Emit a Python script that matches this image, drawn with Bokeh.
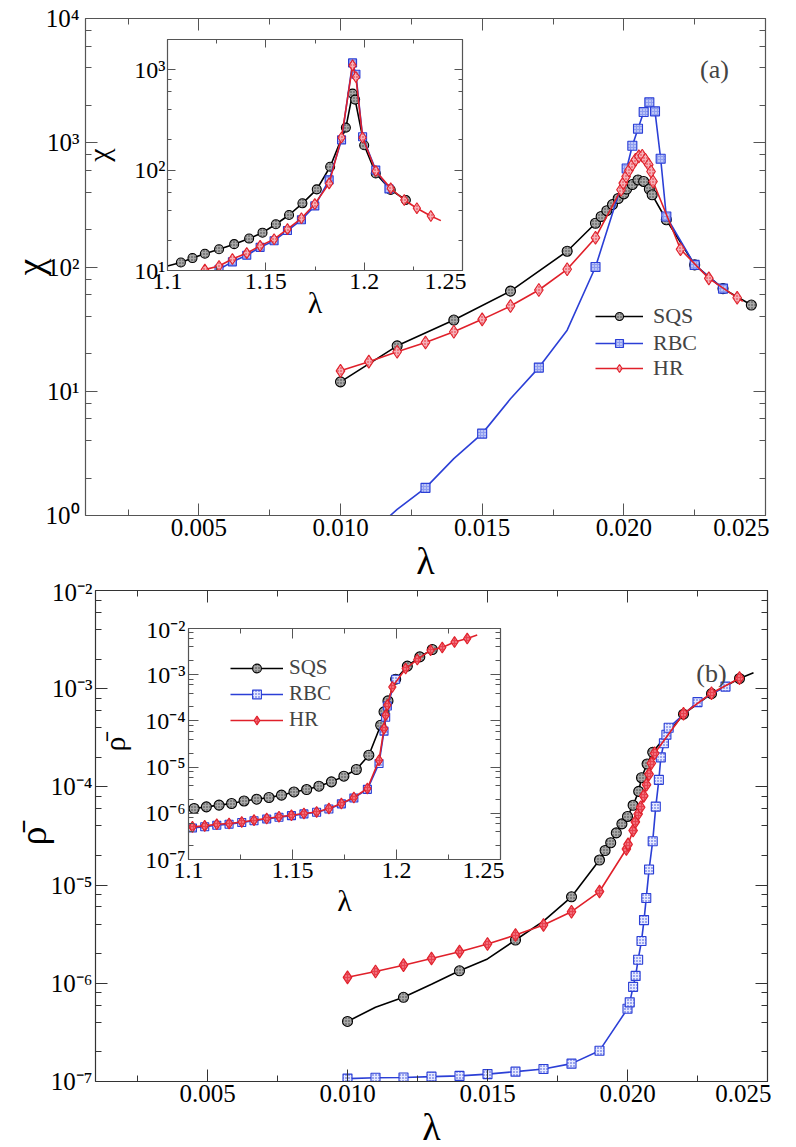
from bokeh.plotting import figure
from bokeh.models import (GridBox, LogAxis, LinearAxis, SingleIntervalTicker, LogTicker,
                          CustomJSTickFormatter, PrintfTickFormatter, Legend, LegendItem,
                          Label, Range1d)
from bokeh.embed import file_html
from bokeh.resources import INLINE

FONT = "Liberation Serif"

# ---------------- data: panel (a), main ----------------
sqs_a_x = [0.0100, 0.0120, 0.0140, 0.0160, 0.0180, 0.0190, 0.0192, 0.0194, 0.0196, 0.0198,
           0.0200, 0.0201, 0.0203, 0.0205, 0.0207, 0.0209, 0.0210, 0.0215, 0.0225, 0.0235, 0.0245]
sqs_a_y = [11.9, 23.2, 37.4, 64.0, 134, 225, 255, 284, 318, 356,
           388, 424, 461, 502, 488, 424, 381, 240, 104, 67, 49.4]
sqs_a_nomark = []

rbc_a_x = [0.0110, 0.0120, 0.0130, 0.0140, 0.0150, 0.0160, 0.0170, 0.0180, 0.0190, 0.0201,
           0.0203, 0.0205, 0.0207, 0.0209, 0.0211, 0.0213, 0.0215, 0.0225, 0.0235]
rbc_a_y = [0.70, 1.12, 1.67, 2.87, 4.56, 8.7, 15.5, 31.0, 100, 620,
           946, 1297, 1766, 2114, 1790, 743, 255, 104, 67]
rbc_a_nomark = [0, 1, 3, 5, 7]

hr_a_x = [0.0100, 0.0110, 0.0120, 0.0130, 0.0140, 0.0150, 0.0160, 0.0170, 0.0180, 0.0190,
          0.01990, 0.01998, 0.02008, 0.02018, 0.02030, 0.02041, 0.02053, 0.02065, 0.02076,
          0.02088, 0.02096, 0.02103, 0.0220, 0.0230, 0.0240, 0.0242]
hr_a_y = [14.6, 17.3, 20.8, 24.7, 30.1, 37.9, 48.5, 65.3, 95.8, 172,
          419, 473, 535, 598, 665, 729, 777, 785, 729,
          665, 587, 488, 139, 81, 56.6, 53]
hr_a_nomark = [25]

# ---------------- data: panel (a), inset ----------------
sqs_ai_x = [1.1000, 1.1068, 1.1127, 1.1190, 1.1262, 1.1339, 1.1415, 1.1483, 1.1551, 1.1618,
            1.1686, 1.1759, 1.1827, 1.1907, 1.1941, 1.1954, 1.2000, 1.2059, 1.2135, 1.2212]
sqs_ai_y = [11.1, 12.0, 13.3, 14.7, 16.3, 18.3, 20.8, 23.8, 28.9, 35.7,
            46.7, 64.3, 108, 265, 578, 504, 177, 92.7, 63.5, 50.4]
sqs_ai_nomark = [0]

rbc_ai_x = [1.1262, 1.1330, 1.1403, 1.1471, 1.1542, 1.1610, 1.1681, 1.1749, 1.1822, 1.1885,
            1.1941, 1.1958, 1.1992, 1.2059, 1.2126]
rbc_ai_y = [10.3, 12.2, 14.2, 17.0, 19.8, 25.0, 32.0, 44.0, 80.0, 200,
            1170, 900, 215, 100, 65]
rbc_ai_nomark = []

hr_ai_x = [1.1162, 1.1190, 1.1262, 1.1330, 1.1403, 1.1471, 1.1542, 1.1610, 1.1681, 1.1749,
           1.1822, 1.1885, 1.1941, 1.1958, 1.1992, 1.2059, 1.2135, 1.2204, 1.2268, 1.2339, 1.2390]
hr_ai_y = [9.9, 10.2, 11.1, 13.0, 14.9, 17.6, 20.5, 25.8, 33.1, 45.9,
           73.8, 211, 1104, 845, 211, 98, 65.8, 50.4, 41.7, 34.9, 31.4]
hr_ai_nomark = [0, 20]

# ---------------- data: panel (b), main ----------------
sqs_b_x = [0.0100, 0.0110, 0.0120, 0.0130, 0.0140, 0.0150, 0.0160, 0.0170, 0.0180, 0.0190,
           0.0192, 0.0194, 0.0196, 0.0198, 0.0200, 0.0202, 0.0204, 0.0205, 0.0207, 0.0209,
           0.0220, 0.0230, 0.0240, 0.0245]
sqs_b_y = [4.09e-7, 5.7e-7, 7.2e-7, 9.8e-7, 1.34e-6, 1.77e-6, 2.76e-6, 4.3e-6, 7.6e-6, 1.8e-5,
           2.25e-5, 2.7e-5, 3.4e-5, 4.2e-5, 5.0e-5, 6.5e-5, 9.0e-5, 1.24e-4, 1.71e-4, 2.25e-4,
           5.5e-4, 8.9e-4, 1.27e-3, 1.45e-3]
sqs_b_nomark = [1, 3, 5, 7, 23]

rbc_b_x = [0.0100, 0.0110, 0.0120, 0.0130, 0.0140, 0.0150, 0.0160, 0.0170, 0.0180, 0.0190,
           0.02000, 0.02008, 0.02020, 0.02029, 0.02038, 0.02050, 0.02059, 0.02067, 0.02077,
           0.02090, 0.02101, 0.02112, 0.02119, 0.02130, 0.02139, 0.02147, 0.0225, 0.0235]
rbc_b_y = [1.07e-7, 1.09e-7, 1.10e-7, 1.12e-7, 1.14e-7, 1.19e-7, 1.26e-7, 1.34e-7, 1.52e-7, 2.06e-7,
           5.5e-7, 6.4e-7, 9.2e-7, 1.19e-6, 1.74e-6, 2.7e-6, 4.4e-6, 7.4e-6, 1.44e-5,
           2.8e-5, 6.3e-5, 1.18e-4, 2.0e-4, 2.78e-4, 3.4e-4, 4.0e-4, 7.3e-4, 1.05e-3]
rbc_b_nomark = []

hr_b_x = [0.0100, 0.0110, 0.0120, 0.0130, 0.0140, 0.0150, 0.0160, 0.0170, 0.0180, 0.0190,
          0.01996, 0.02002, 0.02020, 0.02028, 0.02038, 0.02047, 0.02058, 0.02068, 0.02077,
          0.02085, 0.02097, 0.0220, 0.0230, 0.0240]
hr_b_y = [1.15e-6, 1.32e-6, 1.53e-6, 1.79e-6, 2.1e-6, 2.51e-6, 3.1e-6, 3.93e-6, 5.36e-6, 8.6e-6,
          2.33e-5, 2.6e-5, 3.6e-5, 4.4e-5, 5.3e-5, 6.2e-5, 8.1e-5, 1.05e-4, 1.35e-4,
          1.74e-4, 2.2e-4, 5.56e-4, 9.0e-4, 1.28e-3]
hr_b_nomark = []

# ---------------- data: panel (b), inset ----------------
sqs_bi_x = [1.1027, 1.1086, 1.1147, 1.1207, 1.1267, 1.1328, 1.1387, 1.1447, 1.1507, 1.1568,
            1.1627, 1.1687, 1.1747, 1.1807, 1.1867, 1.1924, 1.1940, 1.1959, 1.1996, 1.2052,
            1.2112, 1.2172]
sqs_bi_y = [1.27e-6, 1.38e-6, 1.5e-6, 1.63e-6, 1.85e-6, 2.02e-6, 2.2e-6, 2.47e-6, 2.9e-6, 3.27e-6,
            3.86e-6, 4.79e-6, 6.36e-6, 8.87e-6, 1.81e-5, 8.07e-5, 1.57e-4, 2.71e-4, 8.0e-4, 1.53e-3,
            2.43e-3, 3.51e-3]
sqs_bi_nomark = []

rbc_bi_x = [1.1019, 1.1078, 1.1136, 1.1195, 1.1256, 1.1315, 1.1376, 1.1435, 1.1495, 1.1555,
            1.1616, 1.1675, 1.1735, 1.1795, 1.1860, 1.1916, 1.1940, 1.1948, 1.1956, 1.1996]
rbc_bi_y = [4.8e-7, 5.1e-7, 5.5e-7, 5.8e-7, 6.3e-7, 6.9e-7, 7.5e-7, 8.2e-7, 8.9e-7, 9.7e-7,
            1.05e-6, 1.24e-6, 1.6e-6, 2.15e-6, 3.3e-6, 1.2e-5, 6.0e-5, 1.2e-4, 2.1e-4, 8.0e-4]
rbc_bi_nomark = []

hr_bi_x = [1.1019, 1.1078, 1.1136, 1.1195, 1.1256, 1.1315, 1.1376, 1.1435, 1.1495, 1.1555,
           1.1616, 1.1675, 1.1735, 1.1795, 1.1860, 1.1916, 1.1940, 1.1948, 1.1956, 1.1980,
           1.2044, 1.2100, 1.2164, 1.2220, 1.2279, 1.2340, 1.2388]
hr_bi_y = [5.08e-7, 5.34e-7, 5.8e-7, 6.0e-7, 6.5e-7, 7.1e-7, 7.7e-7, 8.4e-7, 9.1e-7, 9.9e-7,
           1.07e-6, 1.27e-6, 1.63e-6, 2.2e-6, 3.44e-6, 1.41e-5, 6.8e-5, 1.33e-4, 2.19e-4, 5.4e-4,
           1.36e-3, 2.13e-3, 3.39e-3, 3.88e-3, 5.1e-3, 6.08e-3, 7.2e-3]
hr_bi_nomark = [26]

labels = ["SQS", "RBC", "HR"]

BLACK = "#000000"
BLUE = "#2b3fd6"
RED = "#e0202a"

STY_A = {
    "SQS": dict(color=BLACK, marker="circle", size=10, fill="#a8a8a8", hatch="#3a3a3a"),
    "RBC": dict(color=BLUE, marker="square", size=9, fill="#8e9df0", hatch="#ffffff"),
    "HR": dict(color=RED, marker="diamond", size=13, fill="#f6b0b8", hatch="#e0202a"),
}
STY_B = {
    "SQS": dict(color=BLACK, marker="circle", size=10, fill="#a8a8a8", hatch="#3a3a3a"),
    "RBC": dict(color=BLUE, marker="square", size=9, fill="#e6eaff", hatch="#2b3fd6"),
    "HR": dict(color=RED, marker="diamond", size=13, fill="#e8404e", hatch="#ffb0b8"),
}

LOG_FMT = CustomJSTickFormatter(code="""
const m = {"0":"\u2070","1":"\u00b9","2":"\u00b2","3":"\u00b3","4":"\u2074","5":"\u2075",
           "6":"\u2076","7":"\u2077","8":"\u2078","9":"\u2079","-":"\u207b"};
const e = Math.round(Math.log10(tick));
let s = "";
for (const c of String(e)) { s += m[c]; }
return "10" + s;
""")
BLANK_FMT = CustomJSTickFormatter(code="return '';")
INSET_X_FMT = CustomJSTickFormatter(code="return String(Math.round(tick*100)/100);")


def style_axis(ax, tin, minor_in, color, fsize):
    ax.major_tick_in = tin
    ax.major_tick_out = 0
    ax.minor_tick_in = minor_in
    ax.minor_tick_out = 0
    ax.axis_line_color = color
    ax.major_tick_line_color = color
    ax.minor_tick_line_color = color
    ax.axis_line_width = 1.2
    ax.major_label_text_font = FONT
    ax.major_label_text_font_size = fsize
    ax.major_label_text_color = "black"
    ax.axis_label_text_font = FONT
    ax.axis_label_text_font_style = "normal"
    ax.axis_label_text_color = "black"


def make_panel(fw, fh, xr, yr, border_l, border_t, xint, tin, minor_in, color, fsize,
               xfmt, xlabel, ylabel, lab_size, xstand, ystand, ylab_stand, xlab_stand):
    p = figure(frame_width=fw, frame_height=fh, x_range=Range1d(*xr), y_range=Range1d(*yr),
               y_axis_type="log", output_backend="svg", toolbar_location=None,
               min_border_left=border_l, min_border_right=4,
               min_border_top=border_t, min_border_bottom=4)
    p.xgrid.visible = False
    p.ygrid.visible = False
    p.outline_line_color = None
    p.border_fill_alpha = 0
    p.background_fill_color = "white"
    xa = p.xaxis[0]
    ya = p.yaxis[0]
    xa.ticker = SingleIntervalTicker(interval=xint, num_minor_ticks=2)
    xa.formatter = xfmt
    ya.ticker = LogTicker(desired_num_ticks=6)
    ya.formatter = LOG_FMT
    for ax in (xa, ya):
        style_axis(ax, tin, minor_in, color, fsize)
        ax.axis_label_text_font_size = lab_size
    xa.axis_label = xlabel
    ya.axis_label = ylabel
    xa.major_label_standoff = xstand
    ya.major_label_standoff = ystand
    ya.axis_label_standoff = ylab_stand
    xa.axis_label_standoff = xlab_stand
    top = LinearAxis(ticker=SingleIntervalTicker(interval=xint, num_minor_ticks=2),
                     formatter=BLANK_FMT)
    right = LogAxis(ticker=LogTicker(desired_num_ticks=6), formatter=BLANK_FMT)
    for ax in (top, right):
        style_axis(ax, tin, minor_in, color, "0px")
        ax.major_label_standoff = 0
    p.add_layout(top, "above")
    p.add_layout(right, "right")
    return p


def series(p, xs, ys, nomark, st, lw=1.6):
    lr = p.line(xs, ys, line_color=st["color"], line_width=lw)
    mx = [x for i, x in enumerate(xs) if i not in nomark]
    my = [y for i, y in enumerate(ys) if i not in nomark]
    sr = p.scatter(mx, my, marker=st["marker"], size=st["size"], fill_color=st["fill"],
                   line_color=st["color"], line_width=1.1,
                   hatch_pattern="dot", hatch_scale=3, hatch_color=st["hatch"], hatch_weight=1)
    return lr, sr


# ---------------- panel (a) main: frame at (85, 18), 680 x 497 ----------------
pa = make_panel(680, 497, (0.001, 0.025), (1, 1e4), 85, 18, 0.005, 12, 6, "#555555",
                "25px", PrintfTickFormatter(format="%.3f"), "\u03bb", "\u03c7", "38px",
                3, 6, -8, 1)
ra = {}
ra["SQS"] = series(pa, sqs_a_x, sqs_a_y, sqs_a_nomark, STY_A["SQS"])
ra["RBC"] = series(pa, rbc_a_x, rbc_a_y, rbc_a_nomark, STY_A["RBC"])
ra["HR"] = series(pa, hr_a_x, hr_a_y, hr_a_nomark, STY_A["HR"])
# one legend box per entry so that the rows sit at the reference's pitch
leg_rows_a = [186, 159, 134]
for k, vy in zip(labels, leg_rows_a):
    pa.add_layout(Legend(items=[LegendItem(label=k, renderers=list(ra[k]))],
                         location=(510, vy), padding=0, margin=0, spacing=0,
                         glyph_width=48, glyph_height=20, label_standoff=10,
                         label_text_font=FONT, label_text_font_size="22px",
                         border_line_color=None, background_fill_alpha=0))
pa.add_layout(Label(x=0.0232, y=3900, text="(a)", text_font=FONT, text_font_size="26px",
                    text_align="center", text_baseline="middle"))

# ---------------- panel (a) inset: frame at (167, 39), 295 x 231 ----------------
pai = make_panel(295, 231, (1.1, 1.25), (10, 2000), 91, 6, 0.05, 8, 4, "#555555",
                 "24px", INSET_X_FMT, "\u03bb", "\u03c7", "30px", 3, 2, 16, -6)
series(pai, sqs_ai_x, sqs_ai_y, sqs_ai_nomark, dict(STY_A["SQS"], size=9))
series(pai, rbc_ai_x, rbc_ai_y, rbc_ai_nomark, dict(STY_A["RBC"], size=8))
series(pai, hr_ai_x, hr_ai_y, hr_ai_nomark, dict(STY_A["HR"], size=11))

# ---------------- panel (b) main: frame at (94, 590), 672 x 491 ----------------
pb = make_panel(672, 491, (0.001, 0.025), (1e-7, 1e-2), 86, 12, 0.005, 12, 6, "#333333",
                "25px", PrintfTickFormatter(format="%.3f"), "\u03bb", "\u03c1\u0304", "38px",
                3, 3, -6, 1)
series(pb, sqs_b_x, sqs_b_y, sqs_b_nomark, STY_B["SQS"])
series(pb, rbc_b_x, rbc_b_y, rbc_b_nomark, STY_B["RBC"])
series(pb, hr_b_x, hr_b_y, hr_b_nomark, STY_B["HR"])
pb.add_layout(Label(x=0.0230, y=1.43e-3, text="(b)", text_font=FONT, text_font_size="26px",
                    text_align="center", text_baseline="middle"))

# ---------------- panel (b) inset: frame at (188, 628), 312 x 231 ----------------
pbi = make_panel(312, 231, (1.1, 1.25), (1e-7, 1e-2), 94, 12, 0.05, 10, 5, "#555555",
                 "24px", INSET_X_FMT, "\u03bb", "\u03c1\u0304", "30px", 3, 3, 11, 3)
rb = {}
rb["SQS"] = series(pbi, sqs_bi_x, sqs_bi_y, sqs_bi_nomark, dict(STY_B["SQS"], size=10))
rb["RBC"] = series(pbi, rbc_bi_x, rbc_bi_y, rbc_bi_nomark, dict(STY_B["RBC"], size=8))
rb["HR"] = series(pbi, hr_bi_x, hr_bi_y, hr_bi_nomark, dict(STY_B["HR"], size=11))
leg_b = Legend(items=[LegendItem(label=k, renderers=list(rb[k])) for k in labels],
               location=(42, 127), padding=0, margin=0, spacing=1,
               glyph_width=53, glyph_height=22, label_standoff=6,
               label_text_font=FONT, label_text_font_size="21px",
               border_line_color=None, background_fill_alpha=0)
pbi.add_layout(leg_b)

# grid tracks: x boundaries 0, 8, 76, 94 ; y boundaries 0, 33, 578, 616
grid = GridBox(children=[(pa, 0, 0, 3, 4), (pai, 1, 2, 1, 2),
                         (pb, 2, 1, 2, 3), (pbi, 3, 3, 1, 1)],
               cols=["8px", "68px", "18px", "700px"],
               rows=["33px", "545px", "38px", "560px"],
               height=1147, styles={"overflow": "hidden"})

open("out.html", "w").write(file_html(grid, INLINE))
